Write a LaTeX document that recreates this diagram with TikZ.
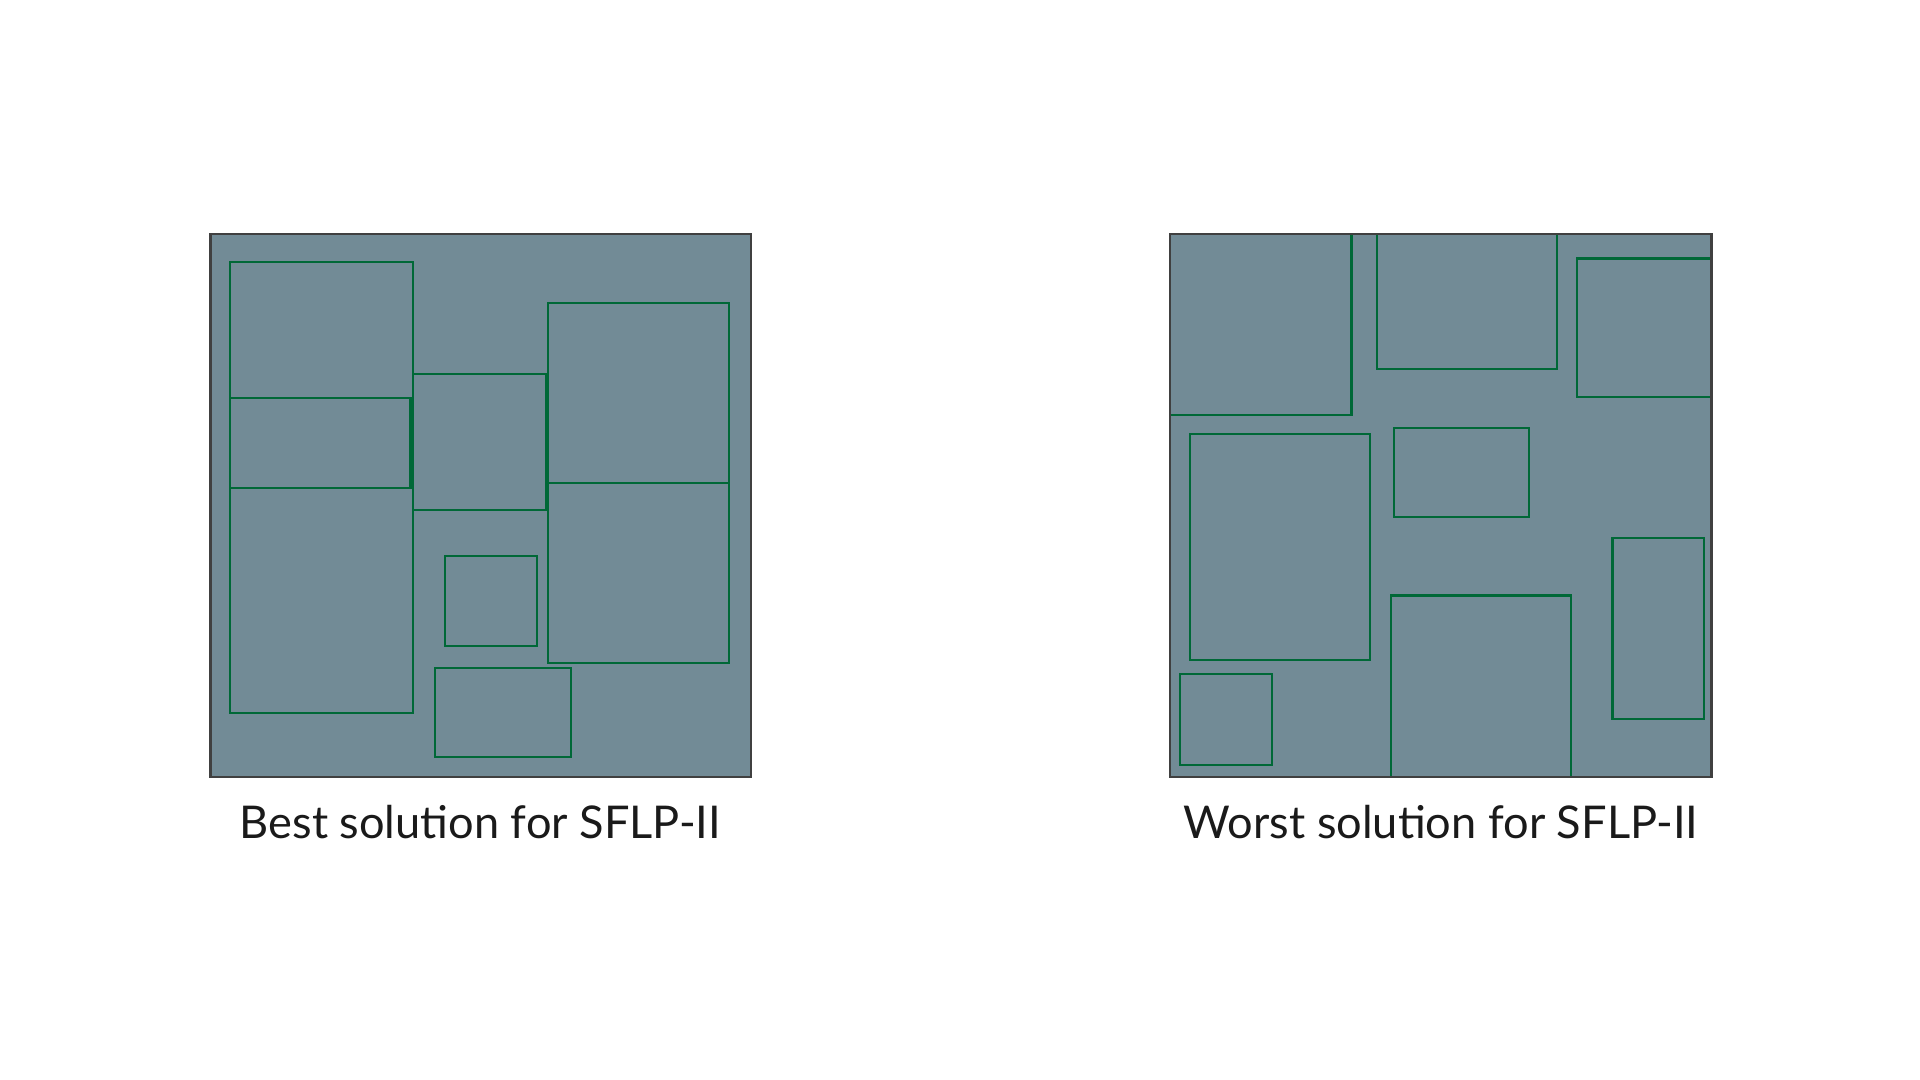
\documentclass[tikz,border=0pt]{standalone}
\usepackage{fontspec}
\setmainfont{Lato}
\usepackage{tikz}
\usetikzlibrary{positioning}
\usepackage{xcolor}
\definecolor{floorgray}{RGB}{114,139,150}
\definecolor{deptgreen}{RGB}{0,104,55}
\definecolor{edgegray}{RGB}{64,64,64}
\definecolor{captionblack}{RGB}{26,26,26}

\begin{document}
\begin{tikzpicture}[x=0.010210cm, y=-0.010210cm]
	\useasboundingbox (0,0) rectangle (1567,881.4);
	\tikzstyle{floor}=[fill=floorgray]
	\tikzstyle{wall}=[draw=edgegray, line width=0.6pt]
	\tikzstyle{dept}=[draw=deptgreen, line width=0.5pt]
	% best solution
	\fill[floor] (172,191) rectangle (613,634);
	\draw[dept] (188,214) rectangle (337,325);
	\draw[dept] (188,325) rectangle (335,398);
	\draw[dept] (188,398) rectangle (337,582);
	\draw[dept] (337,305) rectangle (446,416);
	\draw[dept] (447,247) rectangle (595,394);
	\draw[dept] (447,394) rectangle (595,541);
	\draw[dept] (363,454) rectangle (438,527);
	\draw[dept] (355,545) rectangle (466,618);
	\draw[wall] (172,191) rectangle (613,634);
	% worst solution
	\fill[floor] (955,191) rectangle (1397,634);
	\draw[dept] (955,191) rectangle (1103,339);
	\draw[dept] (1124,191) rectangle (1271,301);
	\draw[dept] (1287,211) rectangle (1397,324);
	\draw[dept] (971,354) rectangle (1118,539);
	\draw[dept] (1138,349) rectangle (1248,422);
	\draw[dept] (1316,439) rectangle (1391,587);
	\draw[dept] (1135,486) rectangle (1282,634);
	\draw[dept] (963,550) rectangle (1038,624);
	\draw[wall] (955,191) rectangle (1397,634);
	\tikzstyle{every node}=[font=\fontsize{10.7}{12}\selectfont, text=captionblack, anchor=base, inner sep=0pt]
	\draw (392,684) node (best) {Best solution for SFLP-II};
	\draw (1176,684) node (worst) {Worst solution for SFLP-II};
\end{tikzpicture}
\end{document}
